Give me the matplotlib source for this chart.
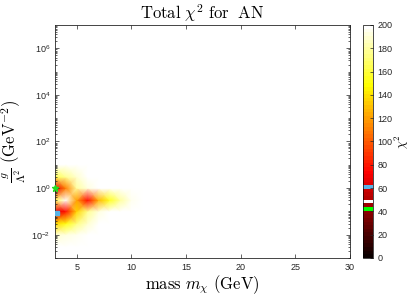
import matplotlib
matplotlib.use('Agg')
import matplotlib.pyplot as plt
import numpy as np
from matplotlib.colors import ListedColormap
from matplotlib.ticker import FixedLocator, FuncFormatter, NullFormatter

plt.rcParams['font.family'] = ['Liberation Sans', 'DejaVu Sans']
plt.rcParams['mathtext.fontset'] = 'cm'

# scan grid: dark-matter mass (GeV) and coupling g/Lambda^2 (GeV^-2)
masses = [3, 4, 5, 6, 7, 8, 9, 10, 11]
couplings = [0.003, 0.01, 0.03, 0.1, 0.3, 1.0, 3.0, 10.0]

# total chi^2 at each node, one row per coupling
chi2 = [
    [210, 210, 210, 210, 210, 210, 210, 210, 210],  # 0.003
    [190, 192, 196, 200, 205, 210, 210, 210, 210],  # 0.01
    [135, 150, 172, 188, 198, 210, 210, 210, 210],  # 0.03
    [66, 75, 135, 178, 192, 205, 210, 210, 210],    # 0.1
    [165, 215, 120, 78, 125, 155, 180, 196, 215],   # 0.3
    [68, 110, 180, 192, 205, 210, 210, 210, 210],   # 1
    [165, 175, 190, 205, 210, 210, 210, 210, 210],  # 3
    [210, 210, 210, 210, 210, 210, 210, 210, 210],  # 10
]

best_fit = (3.0, 1.0)
second_min = (3.2, 0.085)

# MATLAB-style hot(64) with three highlighted levels
r = np.r_[np.arange(1, 25) / 24, np.ones(40)]
g = np.r_[np.zeros(24), np.arange(1, 25) / 24, np.ones(16)]
b = np.r_[np.zeros(48), np.arange(1, 17) / 16]
colors = np.c_[r, g, b]
colors[13] = [0.0, 1.0, 0.0]
colors[15] = [1.0, 1.0, 1.0]
colors[19] = [0.35, 0.7, 0.9]
cmap = ListedColormap(colors)
cmap.set_over('white')

fig = plt.figure(figsize=(4.13, 3.01), dpi=100)
ax = fig.add_axes([0.133, 0.143, 0.714, 0.774])
cax = fig.add_axes([0.879, 0.143, 0.024, 0.774])

M, C = np.meshgrid(masses, couplings)
mesh = ax.pcolormesh(M, C, np.array(chi2, dtype=float), cmap=cmap,
                     vmin=0, vmax=200, shading='gouraud')
ax.plot(*best_fit, marker='*', color='#22dd22', markersize=5, clip_on=False, zorder=5)
ax.plot(*second_min, marker='s', color=colors[19], markersize=2.5, zorder=5)

ax.set_yscale('log')
ax.set_xlim(3, 30)
ax.set_ylim(1e-3, 1e7)
ax.set_xticks([5, 10, 15, 20, 25, 30])
ax.yaxis.set_major_locator(FixedLocator([1e-2, 1e0, 1e2, 1e4, 1e6]))
ax.yaxis.set_major_formatter(FuncFormatter(lambda v, p: r'$\mathdefault{10^{%d}}$' % round(np.log10(v))))
minor = [k * 10.0 ** e for e in range(-3, 7) for k in range(1, 10)]
ax.yaxis.set_minor_locator(FixedLocator(minor))
ax.yaxis.set_minor_formatter(NullFormatter())
ax.tick_params(which='both', direction='in', top=True, right=True, labelsize=6.5,
               colors='#262626', width=0.5)
ax.tick_params(which='major', length=3)
ax.tick_params(which='minor', length=1.5)
for s in ax.spines.values():
    s.set_color('#262626')
    s.set_linewidth(0.6)

ax.set_title(r'$\mathrm{Total}\ \chi^2\ \mathrm{for}\ \ \mathrm{AN}$', fontsize=12, pad=4)
ax.set_xlabel(r'$\mathrm{mass}\ m_\chi\ (\mathrm{GeV})$', fontsize=12, labelpad=1)
ax.set_ylabel(r'$\frac{g}{\Lambda^2}\ (\mathrm{GeV}^{-2})$', fontsize=12, labelpad=2)

cb = fig.colorbar(mesh, cax=cax, ticks=range(0, 201, 20))
cb.outline.set_linewidth(0.5)
cax.tick_params(labelsize=6.5, direction='in', length=2, width=0.5, colors='#262626')
cb.set_label(r'$\chi^2$', fontsize=9, labelpad=0)

fig.savefig('out.png', dpi=100)
